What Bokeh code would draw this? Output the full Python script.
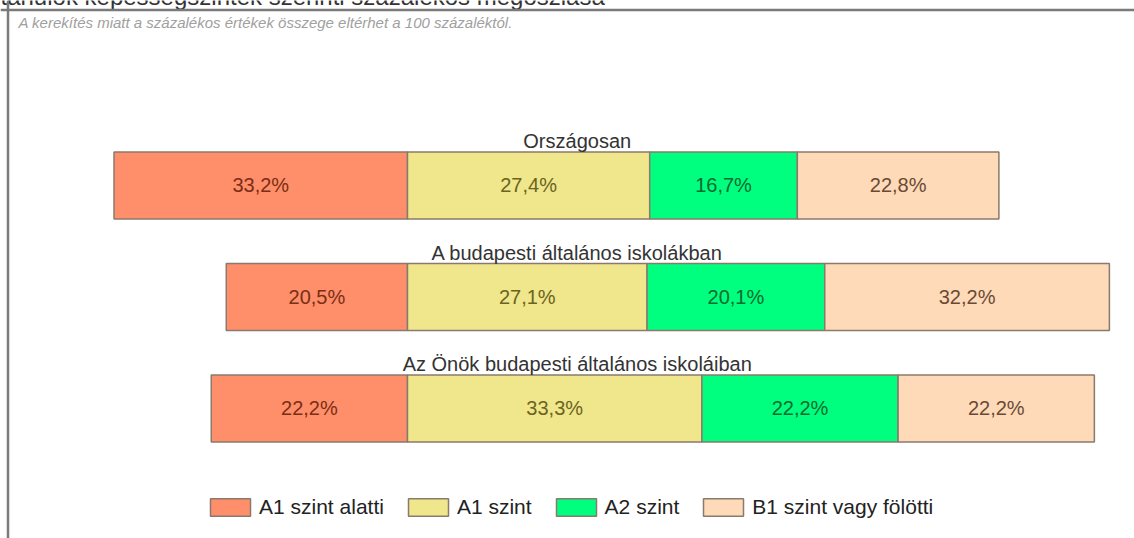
from bokeh.plotting import figure
from bokeh.models import Range1d, Span, Legend, LegendItem, ColumnDataSource
from bokeh.core.properties import value
from bokeh.embed import file_html
from bokeh.resources import INLINE

# ---------------- data ----------------
categories = ["Országosan", "A budapesti általános iskolákban", "Az Önök budapesti általános iskoláiban"]
levels = ["A1 szint alatti", "A1 szint", "A2 szint", "B1 szint vagy fölötti"]
below_a1 = [33.2, 20.5, 22.2]
a1 = [27.4, 27.1, 33.3]
a2 = [16.7, 20.1, 22.2]
b1 = [22.8, 32.2, 22.2]
title_text = "tanulók képességszintek szerinti százalékos megoszlása"
note_text = "A kerekítés miatt a  százalékos értékek összege eltérhet a 100 százaléktól."

# ---------------- style ----------------
fills = ["#FF8F6A", "#F0E68C", "#00FF7F", "#FFDAB9"]
label_colors = ["#7A2E14", "#6A6420", "#0A6A30", "#6A4A34"]
edge = "#8A7A6C"
FONT = "Liberation Sans"

W, H = 1134, 538
X_START, X_END = -46.04, 82.24
Y_BOTTOM, Y_TOP = 3.166, -1.659
BAR_H = 0.60
TITLE_X = 19.2

p = figure(width=W, height=H, output_backend="svg", toolbar_location=None,
           x_range=Range1d(X_START, X_END), y_range=Range1d(Y_BOTTOM, Y_TOP),
           min_border=0, outline_line_color=None)
p.axis.visible = False
p.grid.visible = False
p.background_fill_color = "white"
p.border_fill_color = "white"

rows = list(range(len(categories)))
series = [below_a1, a1, a2, b1]
l0 = [-v for v in below_a1]
r0 = [0.0 for _ in below_a1]
l1 = [0.0 for _ in a1]
r1 = list(a1)
l2 = list(a1)
r2 = [x + y for x, y in zip(a1, a2)]
l3 = list(r2)
r3 = [x + y for x, y in zip(r2, b1)]
lefts = [l0, l1, l2, l3]
rights = [r0, r1, r2, r3]

items = []
for i in range(4):
    src = ColumnDataSource(dict(y=rows, left=lefts[i], right=rights[i],
                                mid=[(a + b) / 2 for a, b in zip(lefts[i], rights[i])],
                                lab=[f"{v:.1f}".replace(".", ",") + "%" for v in series[i]]))
    r = p.hbar(y="y", left="left", right="right", height=BAR_H, source=src,
               fill_color=fills[i], line_color=edge, line_width=1.5)
    items.append(LegendItem(label=levels[i], renderers=[r]))
    p.text(x="mid", y="y", text="lab", source=src, text_align="center", text_baseline="middle",
           text_font=value(FONT), text_font_size="20px", text_color=label_colors[i])

# row titles
tsrc = ColumnDataSource(dict(x=[TITLE_X] * len(categories), y=rows, t=categories))
p.text(x="x", y="y", text="t", source=tsrc, text_align="center", text_baseline="alphabetic",
       y_offset=-44, text_font=value(FONT), text_font_size="20px", text_color="#333333")

# top (cut) title and note
p.text(x=[X_START], y=[Y_TOP], text=[title_text], x_offset=0, y_offset=-4,
       text_align="left", text_baseline="alphabetic",
       text_font=value(FONT), text_font_size="24px", text_color="#333333")
p.text(x=[X_START], y=[Y_TOP], text=[note_text], x_offset=18, y_offset=22,
       text_align="left", text_baseline="alphabetic", text_font_style="italic",
       text_font=value(FONT), text_font_size="15px", text_color="#A0A0A0")

# frame lines
p.add_layout(Span(location=X_START + 7.5 / 8.84, dimension="height", line_color="#7A7A7A", line_width=2.5))
p.add_layout(Span(location=Y_TOP + 9.5 / 111.5, dimension="width", line_color="#7A7A7A", line_width=2.5))

legend = Legend(items=items, orientation="horizontal", location=(205, 19),
                border_line_color=None, background_fill_alpha=0, padding=0, margin=0,
                spacing=19, label_standoff=4, glyph_width=50, glyph_height=22,
                label_text_font=FONT, label_text_font_size="21px", label_text_color="#222222")
p.add_layout(legend, "center")

open("out.html", "w").write(file_html(p, INLINE))
